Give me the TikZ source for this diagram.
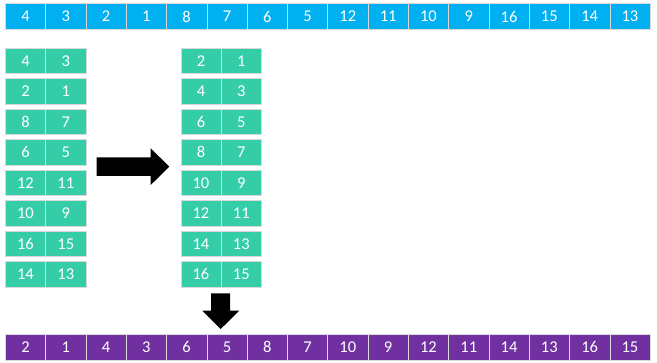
\documentclass[tikz,border=0pt]{standalone}
\usepackage{fontspec}
\setmainfont{Carlito}
\definecolor{topblue}{HTML}{00B0F0}
\definecolor{cellgreen}{HTML}{35CCA8}
\definecolor{botpurple}{HTML}{7030A0}
\begin{document}
\begin{tikzpicture}[x=1pt,y=-1pt,
  cell/.style={draw=white!85!black, line width=0.6pt, text=white, minimum width=40.3pt, minimum height=25.6pt, inner sep=0pt, font=\fontsize{16.5}{18}\selectfont, anchor=north west},
  topcell/.style={cell, fill=topblue},
  grncell/.style={cell, fill=cellgreen},
  botcell/.style={cell, fill=botpurple},
  bigarrow/.style={fill=black}]
\useasboundingbox (0,0) rectangle (657,363);
% top row
\foreach \v [count=\i from 0] in {4,3,2,1,8,7,6,5,12,11,10,9,16,15,14,13}
  \node[topcell] (t\i) at ({5+40.3*\i},3.5) {\v};
% bottom row
\foreach \v [count=\i from 0] in {2,1,4,3,6,5,8,7,10,9,12,11,14,13,16,15}
  \node[botcell] (b\i) at ({5+40.3*\i},334) {\v};
% left column
\foreach \a/\b [count=\r from 0] in {4/3,2/1,8/7,6/5,12/11,10/9,16/15,14/13}{
  \node[grncell] (la\r) at (5,{47.7+30.5*\r}) {\a};
  \node[grncell] (lb\r) at (45.3,{47.7+30.5*\r}) {\b};
}
% middle column
\foreach \a/\b [count=\r from 0] in {2/1,4/3,6/5,8/7,10/9,12/11,14/13,16/15}{
  \node[grncell] (ma\r) at (180.5,{47.7+30.5*\r}) {\a};
  \node[grncell] (mb\r) at (220.8,{47.7+30.5*\r}) {\b};
}
% right arrow
\fill[bigarrow] (96.7,157.3) -- (150.7,157.3) -- (150.7,148.3) -- (169.3,166.7)
  -- (150.7,185) -- (150.7,176) -- (96.7,176) -- cycle;
% down arrow
\fill[bigarrow] (211,293.3) -- (230,293.3) -- (230,310.7) -- (239.3,310.7)
  -- (220.7,329) -- (202.3,310.7) -- (211,310.7) -- cycle;
\end{tikzpicture}
\end{document}
